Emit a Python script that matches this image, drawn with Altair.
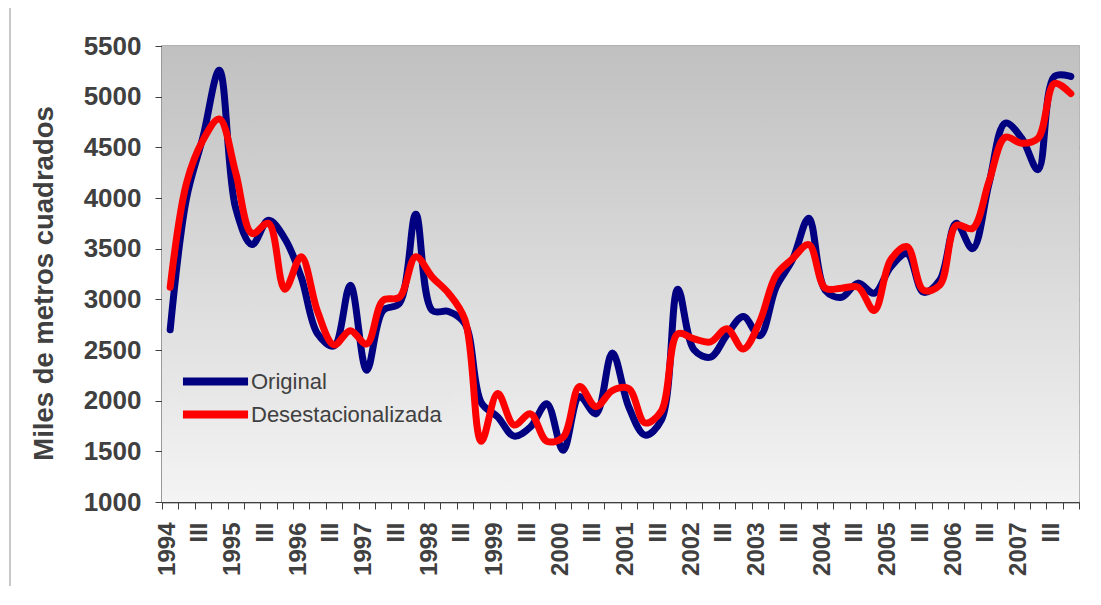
import altair as alt
import pandas as pd

years = list(range(1994, 2008))
quarters = ["I", "II", "III", "IV"]
periodos = [f"{y}-{q}" for y in years for q in quarters]

original = [
    2700, 4000, 4600, 5260,
    3900, 3540, 3780, 3600,
    3220, 2660, 2540, 3140,
    2300, 2890, 2960, 3840,
    2890, 2880, 2760, 1980,
    1840, 1650, 1740, 1970,
    1510, 2040, 1870, 2470,
    1940, 1660, 1810, 3100,
    2500, 2430, 2650, 2830,
    2640, 3120, 3390, 3800,
    3090, 3020, 3160, 3060,
    3320, 3450, 3070, 3190,
    3750, 3500, 4140, 4740,
    4590, 4280, 5200, 5200,
]
desestacionalizada = [
    3120, 4150, 4570, 4780,
    4250, 3650, 3750, 3100,
    3420, 2880, 2550, 2690,
    2560, 2990, 3020, 3420,
    3220, 3060, 2800, 1600,
    2070, 1760, 1870, 1600,
    1640, 2140, 1940, 2100,
    2120, 1780, 1900, 2660,
    2610, 2580, 2710, 2510,
    2780, 3240, 3400, 3540,
    3110, 3110, 3120, 2890,
    3390, 3520, 3090, 3140,
    3730, 3700, 4160, 4600,
    4540, 4590, 5130, 5030,
]
series = ["Original", "Desestacionalizada"]
colors = ["#000080", "#ff0000"]

df_o = pd.DataFrame({"periodo": periodos, "valor": original, "serie": series[0]})
df_d = pd.DataFrame({"periodo": periodos, "valor": desestacionalizada, "serie": series[1]})

W, H = 917, 456
FONT = "Liberation Sans"
TXT = "#404040"

x_enc = alt.X(
    "periodo:N",
    sort=periodos,
    scale=alt.Scale(type="band", paddingInner=0, paddingOuter=0),
    axis=alt.Axis(
        title=None,
        tickBand="extent",
        tickSize=7,
        tickColor=TXT,
        domainColor=TXT,
        domainWidth=1.5,
        labelAngle=-90,
        labelAlign="right",
        labelBaseline="middle",
        labelFontSize=24,
        labelFontWeight="bold",
        labelFont=FONT,
        labelColor=TXT,
        labelPadding=13,
        labelOffset=-3,
        labelOverlap=False,
        labelExpr="split(datum.value,'-')[1]=='I' ? split(datum.value,'-')[0] : (split(datum.value,'-')[1]=='III' ? 'III' : '')",
        grid=False,
    ),
)
y_enc = alt.Y(
    "valor:Q",
    scale=alt.Scale(domain=[1000, 5500], nice=False, zero=False),
    axis=alt.Axis(
        title="Miles de metros cuadrados",
        titleFontSize=27.5,
        titleFontWeight="bold",
        titleFont=FONT,
        titleColor=TXT,
        titlePadding=25,
        titleY=237,
        values=list(range(1000, 5501, 500)),
        format="d",
        tickSize=7,
        tickColor=TXT,
        domainColor=TXT,
        domainWidth=1.5,
        labelFontSize=26,
        labelFontWeight="bold",
        labelFont=FONT,
        labelColor=TXT,
        labelPadding=14,
        grid=True,
        gridColor="#a0a0a0",
        gridWidth=1.5,
    ),
)
color_enc = alt.Color(
    "serie:N",
    scale=alt.Scale(domain=series, range=colors),
    legend=alt.Legend(
        title=None,
        orient="none",
        legendX=39,
        legendY=321,
        symbolType="M-3.1,0H3.1",
        symbolSize=441,
        symbolStrokeWidth=8,
        labelFontSize=22,
        labelFont=FONT,
        labelColor=TXT,
        labelOffset=21,
        labelLimit=0,
        rowPadding=0,
        padding=0,
    ),
)

bg = alt.Chart(alt.Data(values=[{"a": 1}])).mark_rect(
    fill=alt.Gradient(
        gradient="linear",
        stops=[alt.GradientStop(color="#c0c0c0", offset=0), alt.GradientStop(color="#f4f4f4", offset=1)],
        x1=0, x2=0, y1=0, y2=1,
    )
).encode(x=alt.value(0), x2=alt.value(W), y=alt.value(0), y2=alt.value(H))

# legend backdrop hiding the gridline behind the legend, as in the reference
legend_bg = alt.Chart(alt.Data(values=[{"a": 1}])).mark_rect(
    fill=alt.Gradient(
        gradient="linear",
        stops=[alt.GradientStop(color="#e6e6e6", offset=0), alt.GradientStop(color="#eaeaea", offset=1)],
        x1=0, x2=0, y1=0, y2=1,
    )
).encode(x=alt.value(18), x2=alt.value(290), y=alt.value(340), y2=alt.value(370))

frame = alt.Chart(alt.Data(values=[{"a": 1}])).mark_rule(color="#c8c8c8", strokeWidth=2).encode(
    x=alt.value(-152), y=alt.value(-46), y2=alt.value(H + 120)
)

line_o = alt.Chart(df_o).mark_line(
    interpolate="catmull-rom", strokeWidth=7, strokeCap="round", strokeJoin="round"
).encode(x=x_enc, y=y_enc, color=color_enc)
line_d = alt.Chart(df_d).mark_line(
    interpolate="catmull-rom", strokeWidth=7, strokeCap="round", strokeJoin="round"
).encode(x=x_enc, y=y_enc, color=color_enc)

chart = alt.layer(bg, legend_bg, frame, line_o, line_d).properties(
    width=W,
    height=H,
    autosize=alt.AutoSizeParams(type="none"),
    padding={"left": 154, "top": 38, "right": 10, "bottom": 84},
    background="white",
).configure_view(stroke="#a0a0a0", strokeWidth=1.5)

chart.save("out.html", embed_options={"renderer": "svg", "actions": False})
